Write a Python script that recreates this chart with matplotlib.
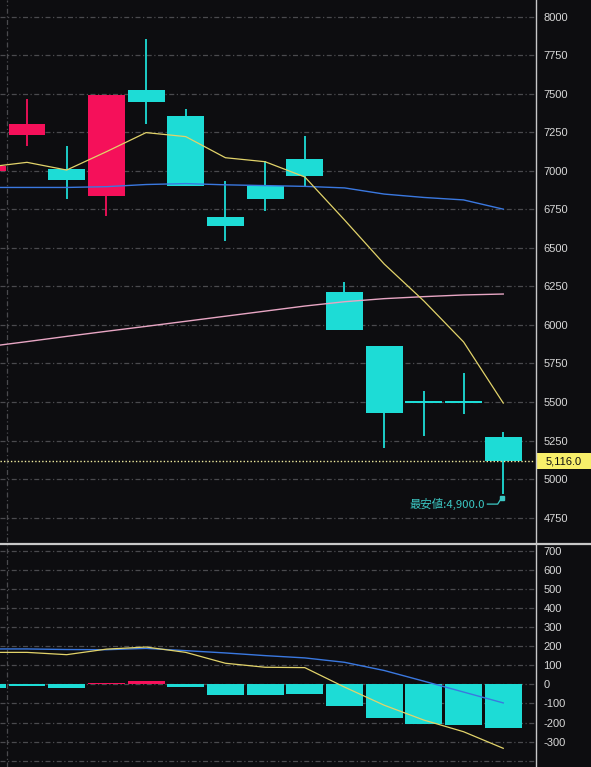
import matplotlib
matplotlib.use("Agg")
import matplotlib.pyplot as plt
from matplotlib.lines import Line2D
from matplotlib.patches import Rectangle
from matplotlib.transforms import blended_transform_factory
import numpy as np

# ---------------- data ----------------
idx = list(range(14))
opens  = [7000, 7235, 7015, 6840, 7525, 7360, 6700, 6900, 7080, 6215, 5865, 5500, 5500, 5270]
highs  = [7035, 7470, 7165, 7490, 7860, 7400, 6935, 7065, 7225, 6280, 5865, 5570, 5690, 5305]
lows   = [7000, 7160, 6820, 6710, 7305, 6900, 6545, 6740, 6905, 5965, 5200, 5280, 5420, 4900]
closes = [7035, 7305, 6940, 7490, 7450, 6900, 6640, 6815, 6970, 5965, 5430, 5500, 5500, 5116]

ma_short = [7025, 7056, 7006, 7125, 7249, 7223, 7086, 7060, 6961, 6682, 6396, 6156, 5890, 5493]
ma_mid   = [6893, 6893, 6893, 6898, 6912, 6918, 6910, 6905, 6900, 6890, 6850, 6828, 6812, 6752]
ma_long  = [5859, 5892, 5926, 5959, 5991, 6024, 6057, 6090, 6123, 6151, 6171, 6184, 6195, 6201]

macd_hist   = [-18, -7, -19, 8, 20, -14, -53, -57, -52, -114, -177, -210, -213, -229]
macd_line   = [168, 168, 156, 185, 196, 168, 111, 90, 88, -14, -109, -187, -248, -335]
signal_line = [186, 186, 183, 182, 189, 177, 165, 151, 139, 116, 73, 17, -40, -97]

price_ticks = [4750, 5000, 5250, 5500, 5750, 6000, 6250, 6500, 6750, 7000, 7250, 7500, 7750, 8000]
macd_ticks = [-300, -200, -100, 0, 100, 200, 300, 400, 500, 600, 700]
last_price = 5116.0
low_label = "最安値:4,900.0"

# ---------------- style ----------------
BG = "#0d0d10"
UP = "#f5105a"
DOWN = "#1ddcd6"
GRID = "#4a4a4e"
TXT = "#d8d8d8"
W, H = 591, 767
fig = plt.figure(figsize=(W / 100, H / 100), dpi=100, facecolor=BG)

right = 535 / W
ax = fig.add_axes([0, (H - 542) / H, right, 542 / H], facecolor=BG)
ax2 = fig.add_axes([0, 0, right, (H - 545) / H], facecolor=BG)

xmin, xmax = 0.32, 13.8
bw = 0.93

for a in (ax, ax2):
    a.set_xlim(xmin, xmax)
    for s in a.spines.values():
        s.set_visible(False)
    a.yaxis.tick_right()
    a.tick_params(axis="y", length=0, pad=6, labelsize=8, colors=TXT)
    a.tick_params(axis="x", length=0, labelbottom=False)
    a.set_xticks([])
    a.axvline(0.5, color=GRID, lw=0.9, ls=(0, (4, 2, 1, 2)), zorder=0)

# ---- main panel ----
ax.set_ylim(4591, 8110)
ax.set_yticks(price_ticks)
ax.set_yticklabels([str(t) for t in price_ticks], fontfamily="Liberation Sans")
for t in price_ticks:
    ax.axhline(t, color=GRID, lw=0.9, ls=(0, (4, 2, 1, 2)), zorder=0)

for i, o, h, l, c in zip(idx, opens, highs, lows, closes):
    col = UP if c > o else DOWN
    ax.vlines(i, l, h, color=col, lw=1.3, zorder=3)
    bottom = min(o, c)
    height = max(abs(c - o), 16)
    if c == o:
        bottom -= 8
    ax.bar(i, height, bottom=bottom, width=bw, color=col, zorder=4, linewidth=0)

ax.plot(idx, ma_long, color="#e8a6c4", lw=1.0, zorder=5)
ax.plot(idx, ma_mid, color="#3a78e0", lw=1.0, zorder=5)
ax.plot(idx, ma_short, color="#e2d36a", lw=0.9, zorder=5)

ax.axhline(last_price, color="#f2eda0", lw=1.0, ls=(0, (1, 1.5)), zorder=6)
bt = blended_transform_factory(ax.transAxes, ax.transData)
ax.add_patch(Rectangle((1.002, last_price - 52), 56 / 535, 104, transform=bt,
                       fc="#f8ef6a", ec="none", clip_on=False, zorder=10))
ax.text(1.002 + 28 / 535, last_price, f"{last_price:,.1f}", transform=bt,
        ha="center", va="center", fontsize=8, color="#111111",
        fontfamily="Liberation Sans", clip_on=False, zorder=11)

imin = int(np.argmin(lows))
lo = lows[imin]
ax.plot([imin - 0.4, imin - 0.14, imin - 0.04], [lo - 63, lo - 63, lo - 22],
        color="#3cc8c4", lw=0.9, zorder=7)
ax.plot([imin - 0.04], [lo - 22], marker="s", ms=2.2, color="#3cc8c4", zorder=7)
ax.text(imin - 0.46, lo - 63, low_label, ha="right", va="center", fontsize=8.2,
        color="#3cc8c4", family=["Noto Sans CJK JP", "DejaVu Sans"], zorder=7)

# ---- MACD panel ----
ax2.set_ylim(-433, 731)
ax2.set_yticks(macd_ticks)
ax2.set_yticklabels([str(t) for t in macd_ticks], fontfamily="Liberation Sans")
for t in macd_ticks + [-400]:
    ax2.axhline(t, color=GRID, lw=0.9, ls=(0, (4, 2, 1, 2)), zorder=0)
hcols = [UP if v > 0 else DOWN for v in macd_hist]
ax2.bar(idx, macd_hist, width=bw, color=hcols, zorder=3, linewidth=0)
ax2.plot(idx, signal_line, color="#3a78e0", lw=1.0, zorder=5)
ax2.plot(idx, macd_line, color="#e2d36a", lw=0.9, zorder=5)

# separators
fig.add_artist(Line2D([0, 1], [(H - 543.5) / H] * 2, color="#c8c8c8", lw=1.6))
fig.add_artist(Line2D([right + 0.5 / W] * 2, [0, 1], color="#c8c8c8", lw=1.0))

fig.savefig("out.png", dpi=100, facecolor=BG)
